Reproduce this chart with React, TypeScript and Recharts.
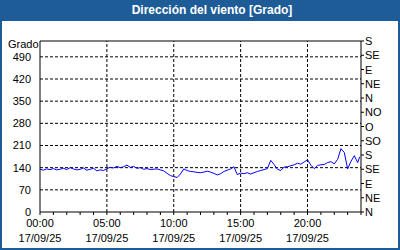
import { LineChart, Line, XAxis, YAxis, CartesianGrid, ReferenceLine } from 'recharts';

// hours of day (17/09/25), 15-minute readings
const HOURS = [
    0, 0.25, 0.5, 0.75, 1, 1.25, 1.5, 1.75, 2, 2.25, 2.5, 2.75, 3, 3.25, 3.5, 3.75, 4, 4.25, 4.5, 4.75,
    5, 5.25, 5.5, 5.75, 6, 6.25, 6.5, 6.75, 7, 7.25, 7.5, 7.75, 8, 8.25, 8.5, 8.75, 9, 9.25, 9.5, 9.75,
    10, 10.25, 10.5, 10.75, 11, 11.25, 11.5, 11.75, 12, 12.25, 12.5, 12.75, 13, 13.25, 13.5, 13.75, 14, 14.25, 14.5, 14.75,
    15, 15.25, 15.5, 15.75, 16, 16.25, 16.5, 16.75, 17, 17.25, 17.5, 17.75, 18, 18.25, 18.5, 18.75, 19, 19.25, 19.5, 19.75,
    20, 20.25, 20.5, 20.75, 21, 21.25, 21.5, 21.75, 22, 22.25, 22.5, 22.75, 23, 23.25, 23.5, 23.75, 23.9,
];

const DIRECTION = [
    135, 132, 136, 134, 137, 133, 135, 138, 134, 140, 136, 133, 135, 139, 132, 135, 138, 130, 133, 131,
    137, 141, 139, 144, 140, 143, 148, 141, 144, 138, 140, 135, 137, 134, 135, 136, 133, 130, 122, 115,
    112, 109, 120, 136, 131, 128, 127, 125, 124, 126, 129, 126, 122, 117, 121, 128, 132, 136, 143, 118,
    123, 121, 124, 120, 124, 128, 131, 134, 137, 163, 150, 135, 131, 142, 143, 146, 149, 154, 151, 158,
    165, 148, 137, 147, 149, 150, 156, 159, 152, 166, 200, 188, 136, 160, 178, 156, 174,
];

const LEFT_TICKS = [0, 70, 140, 210, 280, 350, 420, 490];
const RIGHT_TICKS = [0, 45, 90, 135, 180, 225, 270, 315, 360, 405, 450, 495, 540];
const COMPASS = ['N', 'NE', 'E', 'SE', 'S', 'SO', 'O', 'NO', 'N', 'NE', 'E', 'SE', 'S'];
const HOUR_TICKS = [0, 1, 2, 3, 4, 5, 6, 7, 8, 9, 10, 11, 12, 13, 14, 15, 16, 17, 18, 19, 20, 21, 22, 23, 24];
const MAJOR_TICKS = [0, 5, 10, 15, 20];
const TIME_LABELS = ['00:00', '05:00', '10:00', '15:00', '20:00'];
const DATE_LABEL = '17/09/25';
const Y_MAX = 540;

const BLUE = '#1e5c97';
const FONT = '"Liberation Sans", Arial, sans-serif';

const data = HOURS.map((h, i) => ({ h, dir: DIRECTION[i], dir2: DIRECTION[i] }));

function TimeTick({ x, y, payload }: any) {
    const idx = MAJOR_TICKS.indexOf(Number(payload.value));
    if (idx < 0) return null;
    return (
        <text x={x} y={y} textAnchor="middle" fontSize={11} fontFamily={FONT} fill="#000">
            <tspan x={x} dy={10}>{TIME_LABELS[idx]}</tspan>
            <tspan x={x} dy={15}>{DATE_LABEL}</tspan>
        </text>
    );
}

function CompassTick({ x, y, payload }: any) {
    const idx = RIGHT_TICKS.indexOf(Number(payload.value));
    return (
        <text x={x} y={y} dy={4} textAnchor="start" fontSize={11} fontFamily={FONT} fill="#000">
            {COMPASS[idx]}
        </text>
    );
}

export default function App() {
    return (
        <div
            style={{
                position: 'absolute',
                left: 0,
                top: 0,
                width: 400,
                height: 250,
                boxSizing: 'border-box',
                border: `2px solid ${BLUE}`,
                borderTop: 'none',
                background: '#fff',
                fontFamily: FONT,
            }}
        >
            <div
                style={{
                    height: 21,
                    marginLeft: -2,
                    marginRight: -2,
                    background: BLUE,
                    color: '#fff',
                    fontWeight: 'bold',
                    fontSize: 12,
                    lineHeight: '21px',
                    textAlign: 'center',
                    paddingLeft: 24,
                }}
            >
                Dirección del viento [Grado]
            </div>
            <div style={{ position: 'absolute', left: 6, top: 38, fontSize: 11, color: '#000' }}>Grado</div>
            <LineChart width={396} height={227} data={data} margin={{ top: 20, right: 0, bottom: 0, left: 0 }}>
                <CartesianGrid
                    yAxisId="left"
                    stroke="#000"
                    strokeDasharray="3 2"
                    vertical={false}
                    horizontalValues={LEFT_TICKS.slice(1)}
                />
                <XAxis
                    dataKey="h"
                    type="number"
                    domain={[0, 24]}
                    ticks={HOUR_TICKS}
                    interval={0}
                    tickSize={3}
                    height={36}
                    axisLine={{ stroke: '#000' }}
                    tickLine={{ stroke: '#000' }}
                    tick={<TimeTick />}
                />
                <YAxis
                    yAxisId="left"
                    domain={[0, Y_MAX]}
                    ticks={LEFT_TICKS}
                    interval={0}
                    width={38}
                    tickLine={false}
                    tickMargin={3}
                    axisLine={{ stroke: '#000' }}
                    tick={{ fontSize: 11, fill: '#000', fontFamily: FONT }}
                />
                <YAxis
                    yAxisId="right"
                    orientation="right"
                    domain={[0, Y_MAX]}
                    ticks={RIGHT_TICKS}
                    interval={0}
                    width={37}
                    tickSize={3}
                    tickMargin={1}
                    axisLine={{ stroke: '#000' }}
                    tickLine={{ stroke: '#000' }}
                    tick={<CompassTick />}
                />
                {MAJOR_TICKS.slice(1).map((t) => (
                    <ReferenceLine key={t} x={t} yAxisId="left" stroke="#000" strokeDasharray="3 2" />
                ))}
                <ReferenceLine y={Y_MAX} yAxisId="left" stroke="#000" />
                <Line
                    yAxisId="right"
                    dataKey="dir2"
                    stroke="none"
                    dot={false}
                    activeDot={false}
                    isAnimationActive={false}
                />
                <Line
                    yAxisId="left"
                    dataKey="dir"
                    stroke="#0000ff"
                    strokeWidth={1}
                    dot={false}
                    isAnimationActive={false}
                />
            </LineChart>
        </div>
    );
}
